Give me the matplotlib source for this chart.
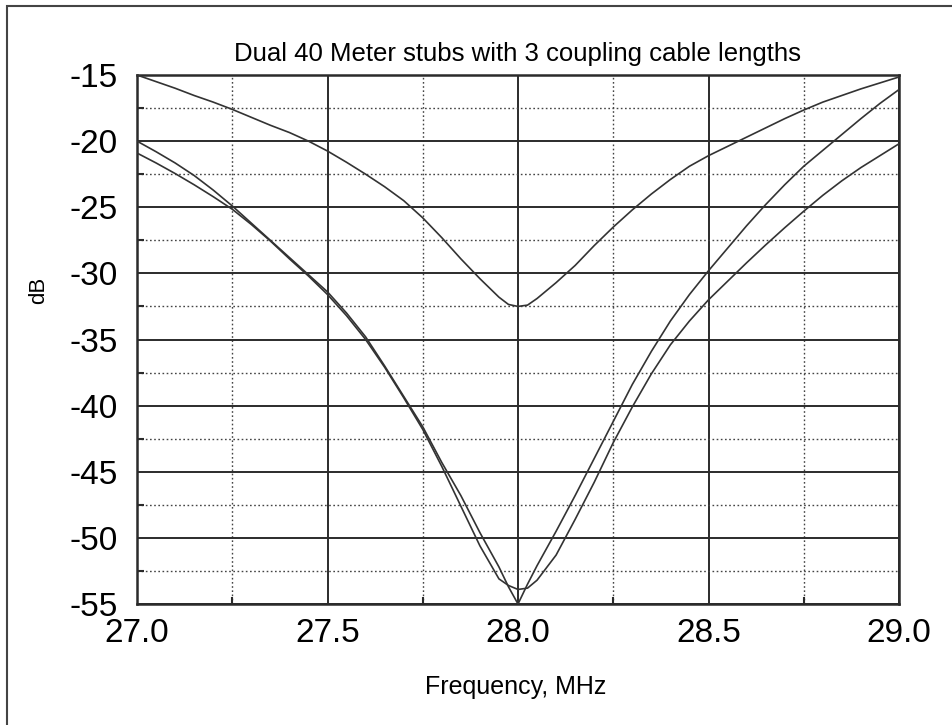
import numpy as np
import matplotlib
matplotlib.use("Agg")
from matplotlib import pyplot as plt
from matplotlib.patches import Rectangle
from matplotlib.ticker import MultipleLocator, FormatStrFormatter

plt.rcParams['font.family'] = ['Liberation Sans', 'DejaVu Sans']
plt.rcParams['axes.unicode_minus'] = False

freq = [27.00, 27.05, 27.10, 27.15, 27.20, 27.25, 27.30, 27.35, 27.40, 27.45,
        27.50, 27.55, 27.60, 27.65, 27.70, 27.75, 27.80, 27.85, 27.90, 27.95,
        27.975, 28.00, 28.025, 28.05, 28.10, 28.15, 28.20, 28.25, 28.30, 28.35,
        28.40, 28.45, 28.50, 28.55, 28.60, 28.65, 28.70, 28.75, 28.80, 28.85,
        28.90, 28.95, 29.00]

# three coupling cable lengths, dB
stub_a = [-15.0, -15.5, -16.0, -16.55, -17.05, -17.6, -18.2, -18.8, -19.35, -20.0,
          -20.75, -21.6, -22.5, -23.45, -24.5, -25.8, -27.3, -28.9, -30.4, -31.8,
          -32.35, -32.5, -32.4, -31.9, -30.7, -29.4, -27.9, -26.5, -25.2, -24.0,
          -22.9, -21.9, -21.1, -20.4, -19.7, -19.0, -18.3, -17.65, -17.05, -16.55,
          -16.05, -15.6, -15.15]
stub_b = [-20.0, -20.8, -21.65, -22.6, -23.7, -24.9, -26.2, -27.5, -28.8, -30.1,
          -31.4, -33.0, -34.8, -37.0, -39.3, -41.6, -44.3, -46.8, -49.6, -52.2,
          -53.7, -55.0, -53.5, -52.1, -49.5, -46.8, -44.0, -41.2, -38.4, -35.9,
          -33.6, -31.6, -29.8, -28.1, -26.4, -24.8, -23.3, -21.9, -20.7, -19.5,
          -18.3, -17.15, -16.1]
stub_c = [-20.9, -21.65, -22.45, -23.3, -24.2, -25.15, -26.3, -27.55, -28.9, -30.2,
          -31.6, -33.2, -35.0, -37.1, -39.4, -41.8, -44.6, -47.6, -50.6, -53.1,
          -53.6, -53.9, -53.8, -53.2, -51.3, -48.6, -45.8, -42.8, -40.1, -37.6,
          -35.4, -33.6, -32.0, -30.6, -29.2, -27.85, -26.55, -25.3, -24.1, -23.0,
          -22.0, -21.1, -20.2]

dark = "#2b2b2b"

fig = plt.figure(figsize=(9.52, 7.25), dpi=100)
fig.patches.append(Rectangle((7/952, -0.05), 1.2, 1 - 6/725 + 0.05,
                             transform=fig.transFigure, fill=False,
                             edgecolor="#444444", linewidth=1.5))
ax = fig.add_axes([137/952, 1 - 604/725, (899 - 137)/952, (604 - 75)/725])

for s in (stub_a, stub_b, stub_c):
    ax.plot(freq, s, color="#333333", linewidth=1.2, zorder=3)

ax.set_xlim(27.0, 29.0)
ax.set_ylim(-55, -15)
ax.xaxis.set_major_locator(MultipleLocator(0.5))
ax.xaxis.set_minor_locator(MultipleLocator(0.25))
ax.yaxis.set_major_locator(MultipleLocator(5))
ax.yaxis.set_minor_locator(MultipleLocator(2.5))
ax.xaxis.set_major_formatter(FormatStrFormatter("%.1f"))

ax.grid(which="major", color=dark, linewidth=1.4, linestyle="-")
ax.grid(which="minor", color="#444444", linewidth=1.0, linestyle=(0, (1.2, 1.8)))
ax.set_axisbelow(True)

ax.tick_params(which="major", direction="in", length=0, labelsize=24,
               colors="black", pad=10)
ax.tick_params(which="minor", direction="in", length=5, width=1.5, color=dark)
ax.tick_params(axis="y", pad=14)
for sp in ax.spines.values():
    sp.set_color(dark)
    sp.set_linewidth(1.8)

ax.set_title("Dual 40 Meter stubs with 3 coupling cable lengths",
             fontsize=18.5, pad=10)
fig.text(516/952, 1 - 687/725, "Frequency, MHz", fontsize=18,
         ha="center", va="center")
fig.text(39/952, 1 - 290/725, "dB", fontsize=16, rotation=90,
         ha="center", va="center")

fig.savefig("out.png", dpi=100)
